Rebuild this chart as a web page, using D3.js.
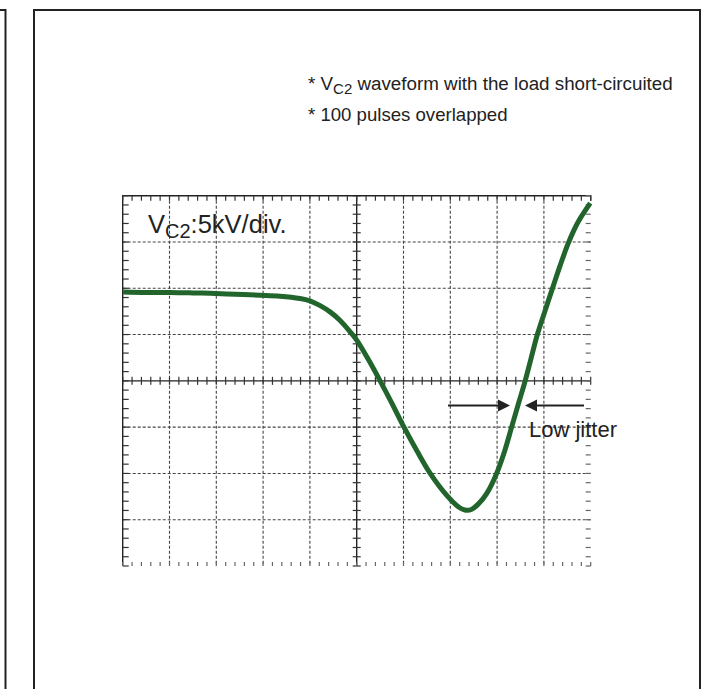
<!DOCTYPE html>
<html>
<head>
<meta charset="utf-8">
<script src="https://cdn.jsdelivr.net/npm/d3@7"></script>
<style>
  body { margin: 0; background: #fff; }
  text { font-family: "Liberation Sans", Arial, Helvetica, sans-serif; fill: #222; }
</style>
</head>
<body>
<div id="chart"></div>
<script>
// waveform, in scope divisions (x: 0..10, y: -4..4, 0 = centre line)
var waveX = [0.01, 0.5, 1.01, 1.5, 1.87, 2.4, 2.93, 3.36, 3.79, 4.0, 4.21, 4.43, 4.64, 4.86, 5.0, 5.25, 5.5,
             5.75, 6.01, 6.28, 6.57, 6.92, 7.17, 7.31, 7.45, 7.6, 7.78, 7.99, 8.16, 8.31, 8.46, 8.6,
             8.73, 8.86, 9.02, 9.19, 9.35, 9.5, 9.63, 9.77, 9.99];
var waveY = [1.92, 1.91, 1.91, 1.9, 1.89, 1.87, 1.85, 1.83, 1.78, 1.73, 1.63, 1.49, 1.31, 1.06, 0.88, 0.46, 0.0,
             -0.48, -1.0, -1.5, -2.0, -2.47, -2.72, -2.79, -2.78, -2.66, -2.43, -2.0, -1.52, -1.0, -0.48, 0.0,
             0.5, 1.0, 1.5, 2.02, 2.5, 2.92, 3.23, 3.5, 3.84];

var notes = ["waveform with the load short-circuited", "* 100 pulses overlapped"];
var scaleLabel = ":5kV/div.";
var jitterLabel = "Low jitter";

var width = 718, height = 689;

var svg = d3.select('#chart')
  .append('svg')
  .attr('width', width)
  .attr('height', height);

// outer frames (left panel edge + this panel)
var frame = svg.append('g')
  .style('fill', 'none')
  .style('stroke', '#222')
  .style('stroke-width', 2);
frame.append('path').attr('d', 'M0,10H5.5V' + (height + 5));
frame.append('path').attr('d', 'M34,' + (height + 5) + 'V10H700V' + (height + 5));

var x = d3.scaleLinear().domain([0, 10]).range([122.7, 590.7]);
var y = d3.scaleLinear().domain([-4, 4]).range([566, 195.7]);

var minorX = d3.range(0, 10.001, 0.2);
var minorY = d3.range(-4, 4.001, 0.2);

var grid = svg.append('g');

// dashed graticule
grid.selectAll('.vdash')
  .data([1, 2, 3, 4, 6, 7, 8, 9])
  .enter().append('line')
  .attr('x1', d => x(d)).attr('x2', d => x(d))
  .attr('y1', y(4)).attr('y2', y(-4))
  .style('stroke', '#444')
  .style('stroke-width', 1.1)
  .style('stroke-dasharray', '3,2');

grid.selectAll('.hdash')
  .data([-3, -2, -1, 1, 2, 3])
  .enter().append('line')
  .attr('x1', x(0)).attr('x2', x(10))
  .attr('y1', d => y(d)).attr('y2', d => y(d))
  .style('stroke', '#444')
  .style('stroke-width', 1.1)
  .style('stroke-dasharray', '3,2');

// centre axes
grid.append('line')
  .attr('x1', x(5)).attr('x2', x(5)).attr('y1', y(4)).attr('y2', y(-4))
  .style('stroke', '#222').style('stroke-width', 1.4);
grid.append('line')
  .attr('x1', x(0)).attr('x2', x(10)).attr('y1', y(0)).attr('y2', y(0))
  .style('stroke', '#222').style('stroke-width', 1.4);

grid.selectAll('.ctickx')
  .data(minorX)
  .enter().append('line')
  .attr('x1', d => x(d)).attr('x2', d => x(d))
  .attr('y1', y(0) - 4).attr('y2', y(0) + 4)
  .style('stroke', '#333').style('stroke-width', 1.2);
grid.selectAll('.cticky')
  .data(minorY)
  .enter().append('line')
  .attr('x1', x(5) - 4).attr('x2', x(5) + 4)
  .attr('y1', d => y(d)).attr('y2', d => y(d))
  .style('stroke', '#333').style('stroke-width', 1.2);

// top and left edges: solid with ticks
grid.append('path')
  .attr('d', `M${x(0)},${y(-4)}V${y(4)}H${x(10)}V${y(4) + 5}`)
  .style('fill', 'none').style('stroke', '#222').style('stroke-width', 1.4);
grid.selectAll('.ttick')
  .data(minorX)
  .enter().append('line')
  .attr('x1', d => x(d)).attr('x2', d => x(d))
  .attr('y1', y(4)).attr('y2', y(4) + 5)
  .style('stroke', '#333').style('stroke-width', 1.2);
grid.selectAll('.ltick')
  .data(minorY)
  .enter().append('line')
  .attr('x1', x(0)).attr('x2', x(0) + 6)
  .attr('y1', d => y(d)).attr('y2', d => y(d))
  .style('stroke', '#333').style('stroke-width', 1.2);

// bottom and right edges: ticks only
grid.selectAll('.btick')
  .data(minorX)
  .enter().append('line')
  .attr('x1', d => x(d)).attr('x2', d => x(d))
  .attr('y1', y(-4) - 4).attr('y2', y(-4))
  .style('stroke', '#666').style('stroke-width', 1.2);
grid.selectAll('.rtick')
  .data(minorY)
  .enter().append('line')
  .attr('x1', x(10) - 5).attr('x2', x(10))
  .attr('y1', d => y(d)).attr('y2', d => y(d))
  .style('stroke', '#666').style('stroke-width', 1.2);

// waveform
var line = d3.line()
  .x((d, i) => x(waveX[i]))
  .y(d => y(d))
  .curve(d3.curveCatmullRom);

svg.append('path')
  .datum(waveY)
  .attr('d', line)
  .style('fill', 'none')
  .style('stroke', '#21652d')
  .style('stroke-width', 5)
  .style('stroke-linejoin', 'round');

// scale label
var lab = svg.append('text')
  .attr('x', 148).attr('y', 232.5)
  .style('font-size', '25.5px');
lab.append('tspan').text('V');
lab.append('tspan').attr('dy', 5).style('font-size', '20px').text('C2');
lab.append('tspan').attr('dy', -5).text(scaleLabel);

// notes
var n1 = svg.append('text')
  .attr('x', 308).attr('y', 90)
  .style('font-size', '18.8px');
n1.append('tspan').text('* V');
n1.append('tspan').attr('dy', 4).style('font-size', '15px').text('C2');
n1.append('tspan').attr('dy', -4).text(' ' + notes[0]);

svg.append('text')
  .attr('x', 308).attr('y', 121)
  .style('font-size', '18.6px')
  .text(notes[1]);

// jitter arrows
var arrows = svg.append('g');
var ay = 405.5;
arrows.append('line').attr('x1', 448).attr('x2', 500).attr('y1', ay).attr('y2', ay)
  .style('stroke', '#222').style('stroke-width', 2);
arrows.append('path').attr('d', `M510,${ay}L498,${ay - 6}L498,${ay + 6}Z`).style('fill', '#222');
arrows.append('line').attr('x1', 535).attr('x2', 584).attr('y1', ay).attr('y2', ay)
  .style('stroke', '#222').style('stroke-width', 2);
arrows.append('path').attr('d', `M525,${ay}L537,${ay - 6}L537,${ay + 6}Z`).style('fill', '#222');

svg.append('text')
  .attr('x', 529).attr('y', 437)
  .style('font-size', '22px')
  .text(jitterLabel);
</script>
</body>
</html>
